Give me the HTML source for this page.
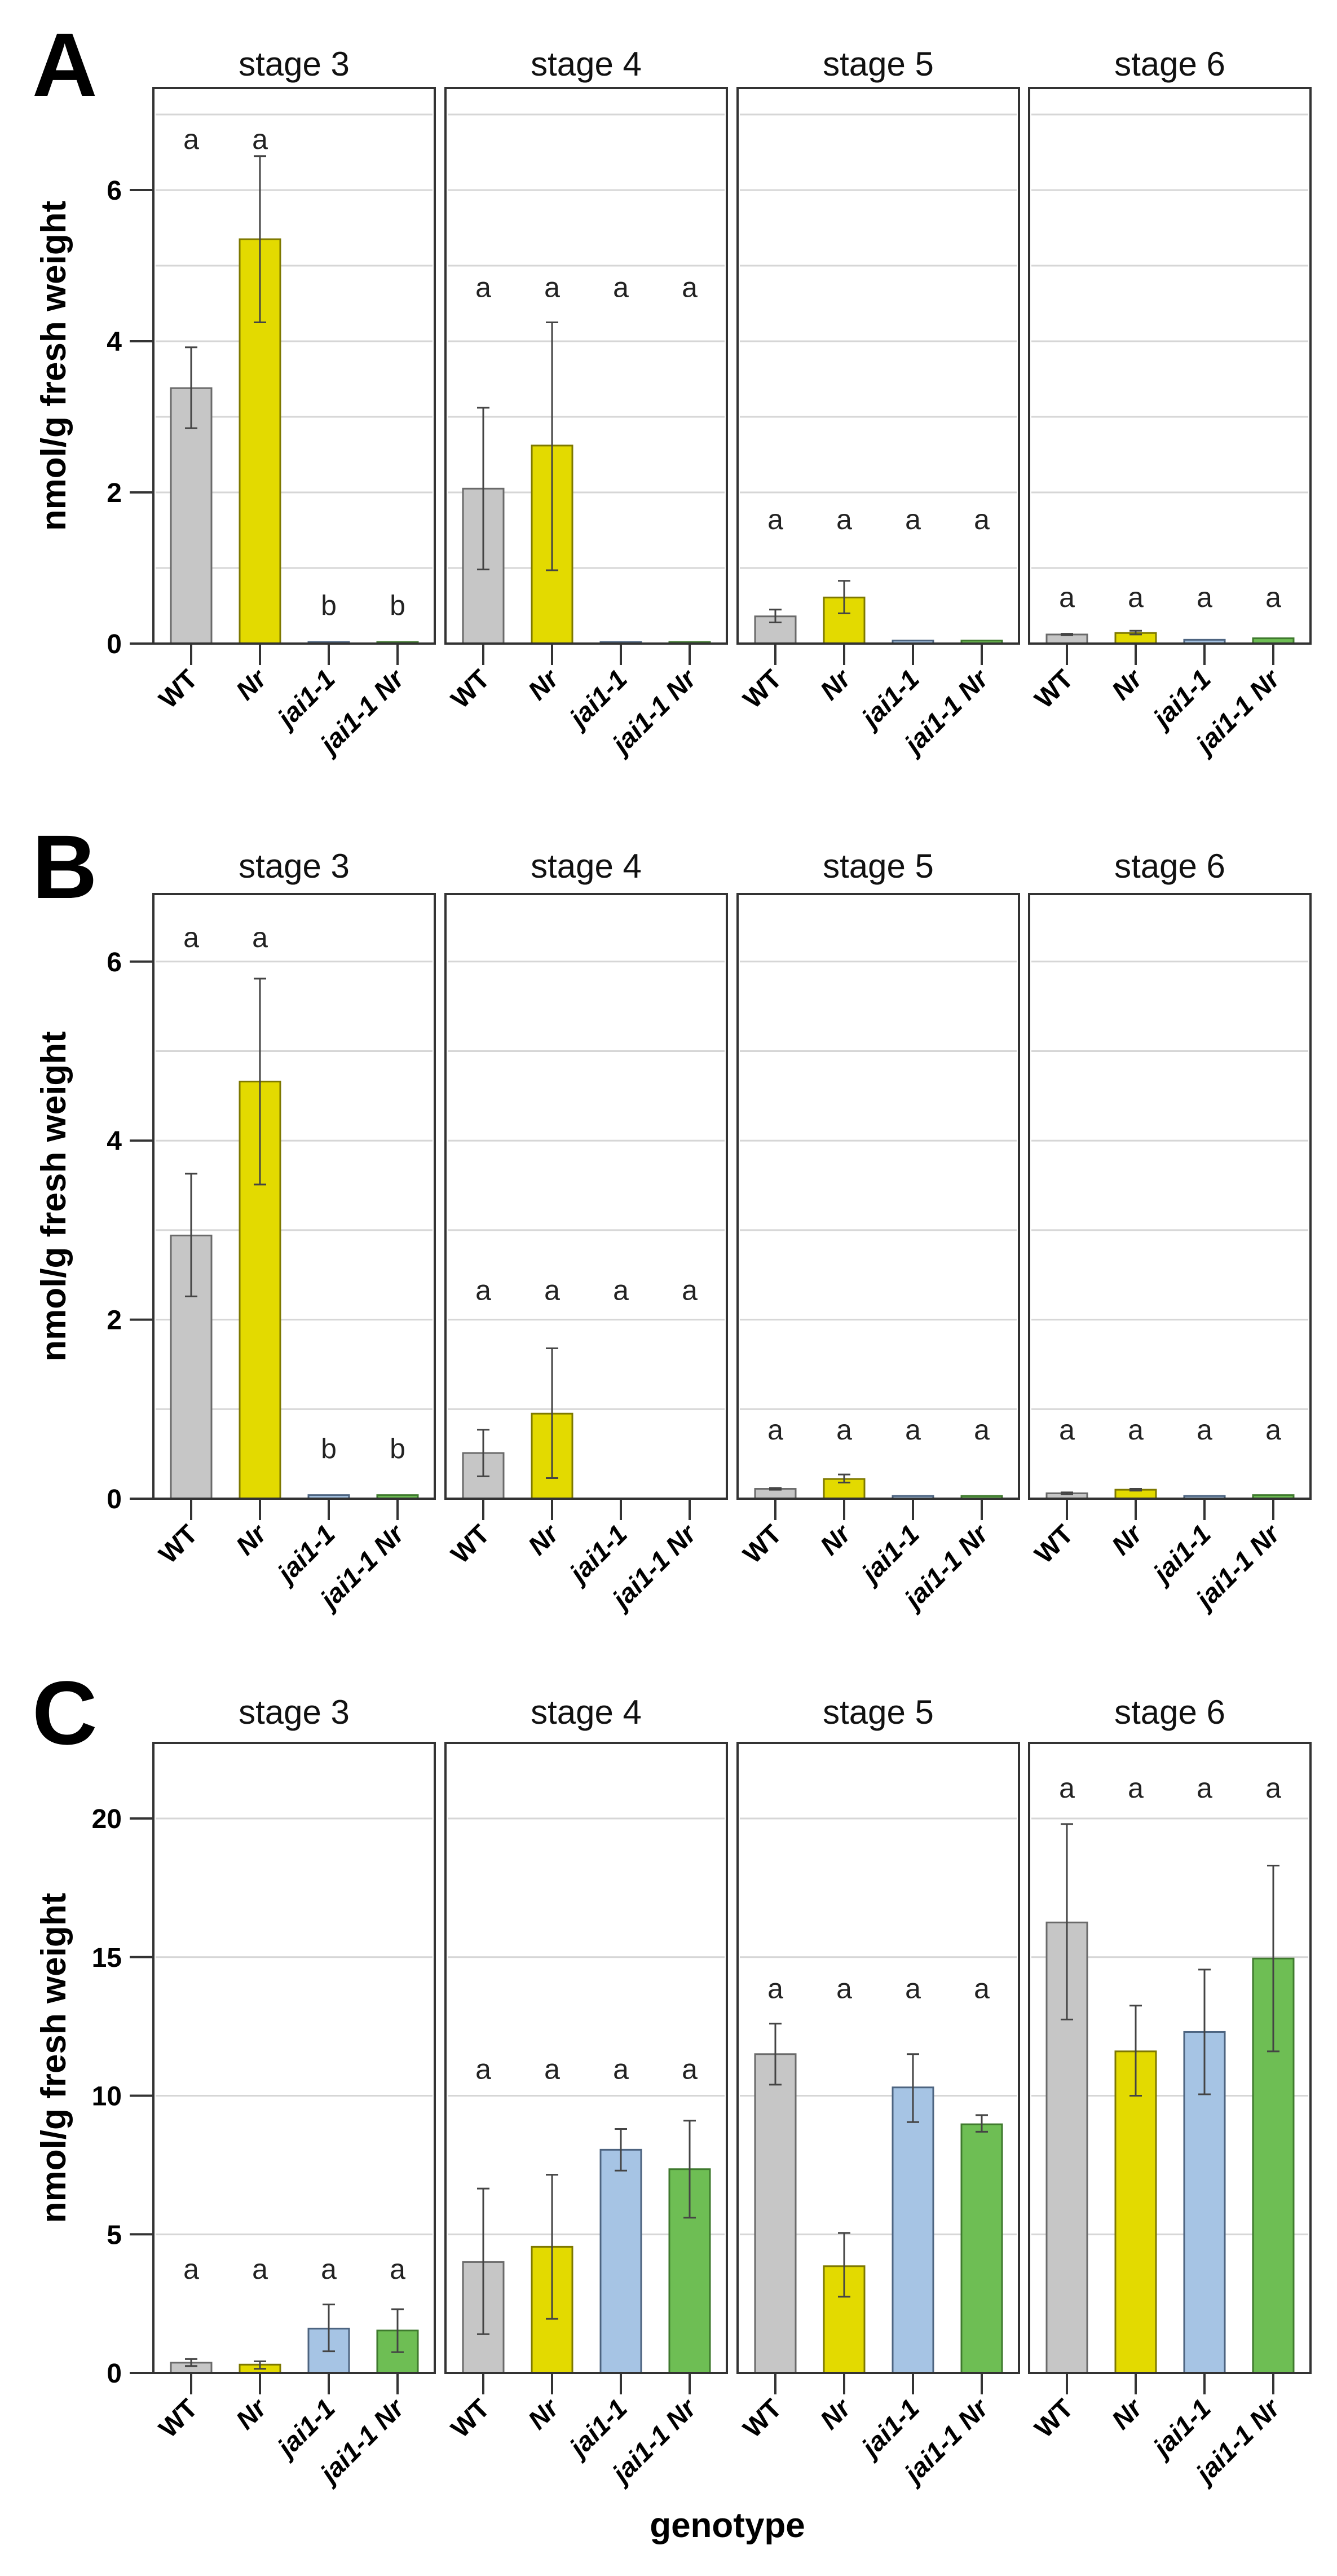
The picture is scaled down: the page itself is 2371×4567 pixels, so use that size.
<!DOCTYPE html>
<html><head><meta charset="utf-8">
<style>
html,body{margin:0;padding:0;background:#fff;}
svg{display:block;font-family:"Liberation Sans",Arial,sans-serif;}
</style></head>
<body>
<svg id="fig" width="2371" height="4567" viewBox="0 0 2371 4567" xmlns="http://www.w3.org/2000/svg"></svg>
<script>
const categories = ["WT","Nr","jai1-1","jai1-1 Nr"];
const stages = ["stage 3","stage 4","stage 5","stage 6"];
const barColors = ["#c6c6c6","#e3da00","#a6c4e4","#6ebe54"];
const barStrokes = ["#6a6a6a","#7d7800","#4d6480","#3f7a2e"];

// Panel A
const aMeans = [[3.38,5.35,0.02,0.02],[2.05,2.62,0.02,0.02],[0.36,0.61,0.04,0.04],[0.12,0.14,0.05,0.07]];
const aLow   = [[2.85,4.25,0.02,0.02],[0.98,0.97,0.02,0.02],[0.28,0.40,0.04,0.04],[0.11,0.12,0.05,0.07]];
const aHigh  = [[3.92,6.45,0.02,0.02],[3.12,4.25,0.02,0.02],[0.45,0.83,0.04,0.04],[0.13,0.17,0.05,0.07]];
const aLetters = [["a","a","b","b"],["a","a","a","a"],["a","a","a","a"],["a","a","a","a"]];
const aLetterY = [[6.65,6.65,0.48,0.48],[4.69,4.69,4.69,4.69],[1.62,1.62,1.62,1.62],[0.59,0.59,0.59,0.59]];
const aTicks = [0,2,4,6];
const aGrid = [1,2,3,4,5,6,7];

// Panel B
const bMeans = [[2.94,4.66,0.04,0.04],[0.51,0.95,0,0],[0.11,0.22,0.03,0.03],[0.06,0.10,0.03,0.04]];
const bLow   = [[2.26,3.51,0.04,0.04],[0.25,0.23,0,0],[0.10,0.18,0.03,0.03],[0.05,0.09,0.03,0.04]];
const bHigh  = [[3.63,5.81,0.04,0.04],[0.77,1.68,0,0],[0.12,0.27,0.03,0.03],[0.07,0.11,0.03,0.04]];
const bLetters = [["a","a","b","b"],["a","a","a","a"],["a","a","a","a"],["a","a","a","a"]];
const bLetterY = [[6.25,6.25,0.54,0.54],[2.31,2.31,2.31,2.31],[0.75,0.75,0.75,0.75],[0.75,0.75,0.75,0.75]];
const bTicks = [0,2,4,6];
const bGrid = [1,2,3,4,5,6];

// Panel C
const cMeans = [[0.37,0.30,1.60,1.53],[4.0,4.55,8.05,7.35],[11.5,3.85,10.3,8.97],[16.25,11.6,12.3,14.95]];
const cLow   = [[0.25,0.15,0.78,0.75],[1.4,1.95,7.3,5.6],[10.4,2.75,9.05,8.7],[12.75,10.0,10.05,11.6]];
const cHigh  = [[0.50,0.42,2.47,2.30],[6.65,7.15,8.8,9.1],[12.6,5.05,11.5,9.3],[19.8,13.25,14.55,18.3]];
const cLetters = [["a","a","a","a"],["a","a","a","a"],["a","a","a","a"],["a","a","a","a"]];
const cLetterY = [[3.68,3.68,3.68,3.68],[10.9,10.9,10.9,10.9],[13.8,13.8,13.8,13.8],[21.04,21.04,21.04,21.04]];
const cTicks = [0,5,10,15,20];
const cGrid = [5,10,15,20];

const NS = "http://www.w3.org/2000/svg";
const svg = document.getElementById("fig");
function mk(tag, attrs, parent){
  const e = document.createElementNS(NS, tag);
  for (const k in attrs) e.setAttribute(k, attrs[k]);
  (parent||svg).appendChild(e);
  return e;
}
const panelLefts = [272, 790, 1308, 1825];
const panelW = 499;

function drawFigure(cfg){
  const g = mk("g", {});
  
  
  const yS = v => cfg.zero - v * cfg.unit;
  // panel letter
  const L = mk("text", {x: 57, y: cfg.titleY + 57, "font-size": 160, "font-weight": "bold", fill: "#000"}, g);
  L.textContent = cfg.id.toUpperCase();
  
  
  // y axis title
  const midY = (cfg.top + cfg.zero) / 2;
  const yt = mk("text", {x: 0, y: 0, "font-size": 62, "font-weight": "bold", "text-anchor": "middle", transform: `translate(116,${midY}) rotate(-90)`}, g);
  yt.textContent = "nmol/g fresh weight";
  
  
  // y ticks
  cfg.ticks.forEach(t => {
    const ln = mk("line", {x1: 230, x2: 272, y1: yS(t), y2: yS(t), stroke: "#333", "stroke-width": 4}, g);
    
    
    const tx = mk("text", {x: 216, y: yS(t) + 17, "font-size": 48, "font-weight": "bold", "text-anchor": "end"}, g);
    tx.textContent = t;
    
    
  });
  stages.forEach((st, s) => {
    const left = panelLefts[s];
    const pg = mk("g", {}, g);
    
    
    const title = mk("text", {x: left + panelW / 2, y: cfg.titleY + 21, "font-size": 60, "text-anchor": "middle", fill: "#111"}, pg);
    title.textContent = st;
    
    
    cfg.grid.forEach(v => {
      const gl = mk("line", {x1: left + 4, x2: left + panelW - 4, y1: yS(v), y2: yS(v), stroke: "#d6d6d6", "stroke-width": 3}, pg);
      
      
    });
    categories.forEach((c, i) => {
      const cx = left + 67 + i * 122;
      const bw = 72;
      const v = cfg.means[s][i];
      const top = yS(v);
      const bar = mk("rect", {x: cx - bw / 2, y: top, width: bw, height: Math.max(cfg.zero - top, 0), fill: barColors[i], stroke: barStrokes[i], "stroke-width": 3}, pg);
      
      
      const lo = cfg.low[s][i], hi = cfg.high[s][i];
      if (hi - lo > 0.001) {
        const eb = mk("path", {d: `M${cx},${yS(hi)}V${yS(lo)}M${cx-11},${yS(hi)}H${cx+11}M${cx-11},${yS(lo)}H${cx+11}`, stroke: "#444", "stroke-width": 3, fill: "none"}, pg);
        
        
      }
      const lt = mk("text", {x: cx, y: yS(cfg.letterY[s][i]) + 14, "font-size": 50, "text-anchor": "middle", fill: "#222"}, pg);
      lt.textContent = cfg.letters[s][i];
      
      
      const tk = mk("line", {x1: cx, x2: cx, y1: cfg.zero, y2: cfg.zero + 38, stroke: "#333", "stroke-width": 4}, pg);
      
      
      const xl = mk("text", {x: 0, y: 0, "font-size": 47, "font-weight": "bold", "font-style": i === 0 ? "normal" : "italic", "text-anchor": "end", transform: `translate(${cx + 14},${cfg.zero + 66}) rotate(-45)`}, pg);
      xl.textContent = c;
      
      
    });
    const box = mk("rect", {x: left, y: cfg.top, width: panelW, height: cfg.zero - cfg.top, fill: "none", stroke: "#333", "stroke-width": 4}, pg);
    
    
  });
}

drawFigure({id: "a", top: 156, zero: 1141, unit: 134, titleY: 113, ticks: aTicks, grid: aGrid, means: aMeans, low: aLow, high: aHigh, letters: aLetters, letterY: aLetterY});
drawFigure({id: "b", top: 1585, zero: 2657, unit: 158.7, titleY: 1535, ticks: bTicks, grid: bGrid, means: bMeans, low: bLow, high: bHigh, letters: bLetters, letterY: bLetterY});
drawFigure({id: "c", top: 3090, zero: 4207, unit: 49.15, titleY: 3035, ticks: cTicks, grid: cGrid, means: cMeans, low: cLow, high: cHigh, letters: cLetters, letterY: cLetterY});

const xt = mk("text", {x: 1290, y: 4498, "font-size": 62, "font-weight": "bold", "text-anchor": "middle"});
xt.textContent = "genotype";


</script>
</body></html>
